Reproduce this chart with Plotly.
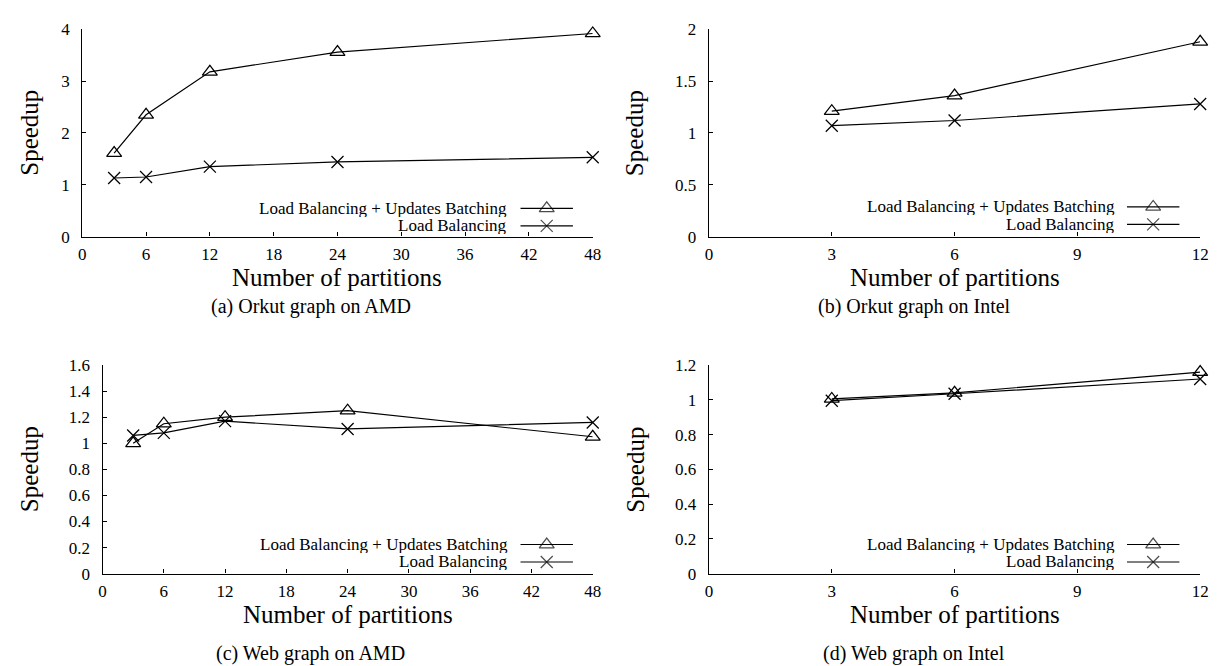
import plotly.graph_objects as go

W, H = 1217, 666
FONT = "Liberation Serif, Times New Roman, Times, DejaVu Serif, serif"

# ---- data ----
amd_partitions = [3, 6, 12, 24, 48]
intel_partitions = [3, 6, 12]

orkut_amd_lb_ub = [1.61, 2.35, 3.18, 3.56, 3.92]
orkut_amd_lb = [1.13, 1.15, 1.35, 1.44, 1.53]

orkut_intel_lb_ub = [1.21, 1.36, 1.88]
orkut_intel_lb = [1.07, 1.12, 1.28]

web_amd_lb_ub = [1.0, 1.15, 1.2, 1.25, 1.05]
web_amd_lb = [1.06, 1.08, 1.17, 1.11, 1.16]

web_intel_lb_ub = [1.005, 1.04, 1.16]
web_intel_lb = [0.995, 1.035, 1.12]

series_names = ["Load Balancing + Updates Batching", "Load Balancing"]
captions = ["(a) Orkut graph on AMD", "(b) Orkut graph on Intel",
            "(c) Web graph on AMD", "(d) Web graph on Intel"]
x_title = "Number of partitions"
y_title = "Speedup"

SYMBOLS = ["triangle-up-open", "x-thin-open"]
SIZES = [13, 12]


def px(x):
    return x / W


def py(y):
    return 1 - y / H


panels = [
    dict(x=amd_partitions, s1=orkut_amd_lb_ub, s2=orkut_amd_lb,
         xd=(71, 587), yd=(226, 12.7), xr=[0, 48], xdt=6, yr=[0, 4], ydt=1,
         leg_text_r=501, leg_line=(514, 567), leg_y=(197, 215),
         ytitle_x=18, cap_x=302, cap_y=298),
    dict(x=intel_partitions, s1=orkut_intel_lb_ub, s2=orkut_intel_lb,
         xd=(704.5, 1201), yd=(226, 12.7), xr=[0, 12], xdt=3, yr=[0, 2], ydt=0.5,
         leg_text_r=1116, leg_line=(1127, 1180), leg_y=(195.5, 213.5),
         ytitle_x=630, cap_x=912, cap_y=298),
    dict(x=amd_partitions, s1=web_amd_lb_ub, s2=web_amd_lb,
         xd=(91.5, 587), yd=(573, 358.3), xr=[0, 48], xdt=6, yr=[0, 1.6], ydt=0.2,
         leg_text_r=502, leg_line=(514, 567), leg_y=(543, 561),
         ytitle_x=18, cap_x=302, cap_y=655),
    dict(x=intel_partitions, s1=web_intel_lb_ub, s2=web_intel_lb,
         xd=(704.5, 1201), yd=(573, 358.3), xr=[0, 12], xdt=3, yr=[0, 1.2], ydt=0.2,
         leg_text_r=1116, leg_line=(1127, 1180), leg_y=(543, 561),
         ytitle_x=630, cap_x=912, cap_y=655),
]

fig = go.Figure()
annotations = []
layout = dict(
    width=W, height=H, margin=dict(l=0, r=0, t=0, b=0),
    paper_bgcolor="white", plot_bgcolor="rgba(0,0,0,0)", showlegend=False,
    font=dict(family=FONT, size=17, color="black"),
)

# full-page overlay axis pair (pixel units) for the legend keys
LEG_X, LEG_Y = "x5", "y5"
layout["xaxis5"] = dict(domain=[0, 1], range=[0, W], visible=False, fixedrange=True,
                        anchor="y5")
layout["yaxis5"] = dict(domain=[0, 1], range=[H, 0], visible=False, fixedrange=True,
                        anchor="x5")

for i, p in enumerate(panels, start=1):
    xa = "x" if i == 1 else f"x{i}"
    ya = "y" if i == 1 else f"y{i}"
    xkey = "xaxis" if i == 1 else f"xaxis{i}"
    ykey = "yaxis" if i == 1 else f"yaxis{i}"

    for k, ser in enumerate([p["s1"], p["s2"]]):
        fig.add_trace(go.Scatter(
            x=p["x"], y=ser, xaxis=xa, yaxis=ya, mode="lines+markers",
            cliponaxis=False,
            line=dict(color="black", width=1.2),
            marker=dict(symbol=SYMBOLS[k], size=SIZES[k], color="black",
                        line=dict(width=1.25, color="black")),
            name=series_names[k]))

    common = dict(showline=True, linecolor="black", linewidth=1.4,
                  ticks="inside", ticklen=4, tickwidth=1, tickcolor="black",
                  showgrid=False, zeroline=False,
                  tickfont=dict(family=FONT, size=17, color="black"))
    layout[xkey] = dict(domain=[px(p["xd"][0]), px(p["xd"][1])], range=p["xr"],
                        tick0=0, dtick=p["xdt"], anchor=ya,
                        ticklabelstandoff=2, **common)
    layout[ykey] = dict(domain=[py(p["yd"][0]), py(p["yd"][1])], range=p["yr"],
                        tick0=0, dtick=p["ydt"], anchor=xa,
                        ticklabelstandoff=8, **common)

    # axis titles
    cx = (p["xd"][0] + p["xd"][1]) / 2
    cy = (p["yd"][0] + p["yd"][1]) / 2
    annotations.append(dict(text=x_title, x=px(cx), y=py(p["yd"][0] + 42),
                            xref="paper", yref="paper", showarrow=False,
                            xanchor="center", yanchor="middle",
                            font=dict(family=FONT, size=25, color="black")))
    annotations.append(dict(text=y_title, x=px(p["ytitle_x"]), y=py(cy),
                            xref="paper", yref="paper", showarrow=False,
                            textangle=-90, xanchor="center", yanchor="middle",
                            font=dict(family=FONT, size=25, color="black")))
    # caption
    annotations.append(dict(text=captions[i - 1], x=px(p["cap_x"]), y=py(p["cap_y"]),
                            xref="paper", yref="paper", showarrow=False,
                            xanchor="center", yanchor="middle",
                            font=dict(family=FONT, size=20, color="black")))
    # manual legend: text on the left, key (line + marker) on the right
    x0, x1 = p["leg_line"]
    for k in range(2):
        yy = p["leg_y"][k]
        annotations.append(dict(text=series_names[k], x=px(p["leg_text_r"]), y=py(yy),
                                xref="paper", yref="paper", showarrow=False,
                                xanchor="right", yanchor="middle", height=17,
                                borderpad=0,
                                font=dict(family=FONT, size=17, color="black")))
        fig.add_trace(go.Scatter(
            x=[x0, (x0 + x1) / 2, x1], y=[yy, yy, yy], xaxis=LEG_X, yaxis=LEG_Y,
            mode="lines+markers", cliponaxis=False, hoverinfo="skip",
            line=dict(color="black", width=1.2),
            marker=dict(symbol=SYMBOLS[k], size=[0, SIZES[k], 0], color="black",
                        line=dict(width=1.25, color="black")),
            showlegend=False))

layout["annotations"] = annotations
fig.update_layout(**layout)
fig.write_html("out.html")
